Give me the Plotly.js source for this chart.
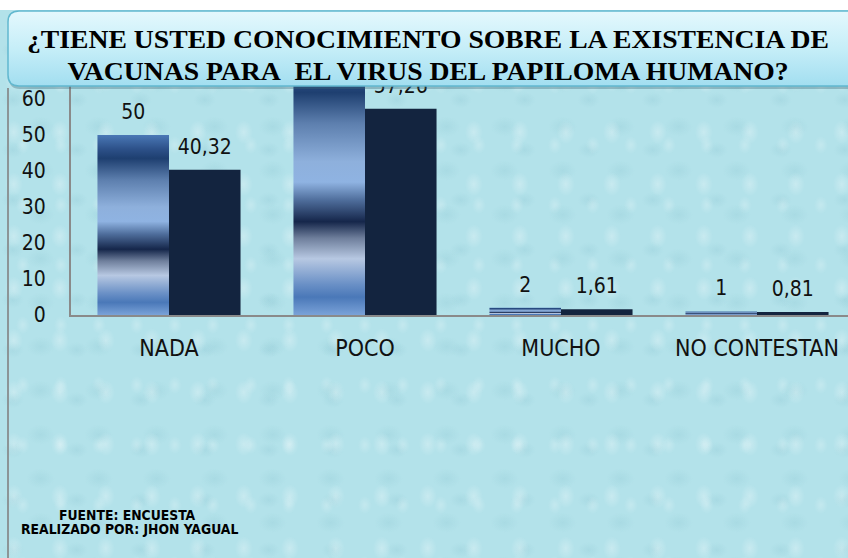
<!DOCTYPE html>
<html>
<head>
<meta charset="utf-8">
<script src="https://cdn.plot.ly/plotly-3.0.1.min.js"></script>
<style>
  html, body { margin: 0; padding: 0; background: #ffffff; overflow: hidden; }
  #wrap { position: relative; width: 848px; height: 558px; }
  #bg { position: absolute; left: 0; top: 10px; width: 848px; height: 548px;
    background-color: #b3e2ea;
    background-image:
      radial-gradient(ellipse 9px 12px at 30% 35%, rgba(255,255,255,0.28), rgba(255,255,255,0) 100%),
      radial-gradient(ellipse 14px 10px at 70% 65%, rgba(150,205,215,0.35), rgba(150,205,215,0) 100%),
      radial-gradient(ellipse 7px 9px at 60% 25%, rgba(255,255,255,0.22), rgba(255,255,255,0) 100%),
      radial-gradient(ellipse 11px 8px at 20% 80%, rgba(145,200,212,0.3), rgba(145,200,212,0) 100%);
    background-size: 46px 52px, 58px 44px, 38px 60px, 64px 50px; }
  #chart { position: absolute; left: 0; top: 0; width: 848px; height: 558px; }
</style>
</head>
<body>
<div id="wrap"><div id="bg"></div><div id="chart"></div></div>
<script>
// ---- data ----
const categories = ['NADA', 'POCO', 'MUCHO', 'NO CONTESTAN'];
const frecuencia = [50, 71, 2, 1];
const porcentaje = [40.32, 57.26, 1.61, 0.81];
const yTickVals = [0, 10, 20, 30, 40, 50, 60];
const titleLines = ['¿TIENE USTED CONOCIMIENTO SOBRE LA EXISTENCIA DE', 'VACUNAS PARA\u00a0 EL VIRUS DEL PAPILOMA HUMANO?'];
const footLines = ['FUENTE: ENCUESTA', 'REALIZADO POR: JHON YAGUAL'];

// ---- layout geometry (pixels) ----
const W = 848, H = 558;
const PL = 71, PR = 848, PT = 12, PB = 315;
const pxPerUnit = 3.6;
const bargap = 0.27;
const xRange = [-0.5, -0.5 + (PR - PL) / 196];
const yRange = [0, (PB - PT) / pxPerUnit];
const px = x => (x - PL) / (PR - PL);
const py = y => (PB - y) / (PB - PT);

const COND = '"DejaVu Sans Condensed", "Liberation Sans Narrow", "Arial Narrow", "Liberation Sans", sans-serif';
const SERIF = '"Liberation Serif", "Times New Roman", serif';

const fmt = v => String(v).replace('.', ',');
const halfOff = (1 - bargap) / 4;
const idx = categories.map((c, i) => i);

const traces = [
  { type: 'bar', x: categories, y: frecuencia, name: 'Frecuencia',
    marker: { color: '#5a84c0', line: { width: 0 } }, hoverinfo: 'skip' },
  { type: 'bar', x: categories, y: porcentaje, name: 'Porcentaje',
    marker: { color: '#13243f', line: { width: 0 } }, hoverinfo: 'skip' },
  { type: 'scatter', mode: 'markers+text', xaxis: 'x2', yaxis: 'y',
    x: idx.map(i => i - halfOff), y: frecuencia, text: frecuencia.map(fmt),
    textposition: 'top center', cliponaxis: true,
    marker: { size: 16, color: 'rgba(0,0,0,0)' },
    textfont: { family: COND, size: 21, color: '#111' }, hoverinfo: 'skip', showlegend: false },
  { type: 'scatter', mode: 'markers+text', xaxis: 'x2', yaxis: 'y',
    x: idx.map(i => i + halfOff), y: porcentaje, text: porcentaje.map(fmt),
    textposition: 'top center', cliponaxis: true,
    marker: { size: 16, color: 'rgba(0,0,0,0)' },
    textfont: { family: COND, size: 21, color: '#111' }, hoverinfo: 'skip', showlegend: false }
];

function roundRect(x0, y0, x1, y1, r) {
  const X = px, Y = py;
  return `M ${X(x0 + r)} ${Y(y0)} L ${X(x1 - r)} ${Y(y0)} Q ${X(x1)} ${Y(y0)} ${X(x1)} ${Y(y0 + r)} ` +
         `L ${X(x1)} ${Y(y1 - r)} Q ${X(x1)} ${Y(y1)} ${X(x1 - r)} ${Y(y1)} L ${X(x0 + r)} ${Y(y1)} ` +
         `Q ${X(x0)} ${Y(y1)} ${X(x0)} ${Y(y1 - r)} L ${X(x0)} ${Y(y0 + r)} Q ${X(x0)} ${Y(y0)} ${X(x0 + r)} ${Y(y0)} Z`;
}

const TITLE_CX = 428;
const layout = {
  width: W, height: H,
  margin: { l: PL, r: W - PR, t: PT, b: H - PB, pad: 0 },
  paper_bgcolor: 'rgba(0,0,0,0)', plot_bgcolor: 'rgba(0,0,0,0)',
  showlegend: false,
  barmode: 'group', bargap: bargap, bargroupgap: 0,
  separators: ',.',
  title: {
    text: titleLines.join('<br>'),
    font: { family: SERIF, size: 24.5, color: '#000', weight: 'bold' },
    xref: 'container', x: TITLE_CX / W, xanchor: 'center',
    yref: 'container', y: 1 - 48 / H, yanchor: 'middle'
  },
  xaxis: {
    type: 'category', range: xRange, fixedrange: true,
    showline: true, linecolor: '#8a8a8a', linewidth: 2,
    showgrid: false, zeroline: false, ticks: '',
    ticklabelstandoff: 11,
    tickfont: { family: COND, size: 23, color: '#111' }
  },
  xaxis2: { overlaying: 'x', anchor: 'y', range: xRange, visible: false, fixedrange: true },
  yaxis: {
    range: yRange, fixedrange: true,
    tickmode: 'array', tickvals: yTickVals,
    showline: true, linecolor: '#8a8a8a', linewidth: 2,
    showgrid: false, zeroline: false, ticks: '',
    ticklabelstandoff: 19,
    tickfont: { family: COND, size: 21, color: '#111' }
  },
  shapes: [
    { type: 'path', xref: 'paper', yref: 'paper', layer: 'above',
      path: roundRect(9, 14, 880, 89, 11),
      fillcolor: 'rgba(60,100,115,0.35)', line: { width: 0 } },
    { type: 'path', xref: 'paper', yref: 'paper', layer: 'above',
      path: roundRect(8, 11, 878, 86, 11),
      fillcolor: '#bfeaf5', line: { color: '#62b8cf', width: 1.5 } },
    { type: 'line', xref: 'paper', yref: 'paper', layer: 'above',
      x0: px(8), x1: px(8), y0: py(88), y1: py(H + 5),
      line: { color: '#8c9597', width: 2 } }
  ],
  annotations: [
    { xref: 'paper', yref: 'paper', x: px(127), y: py(515), xanchor: 'center', yanchor: 'middle',
      text: footLines[0], showarrow: false,
      font: { family: COND, size: 13.8, color: '#000', weight: 'bold' } },
    { xref: 'paper', yref: 'paper', x: px(129.5), y: py(529), xanchor: 'center', yanchor: 'middle',
      text: footLines[1], showarrow: false,
      font: { family: COND, size: 13.8, color: '#000', weight: 'bold' } }
  ]
};

Plotly.newPlot('chart', traces, layout, { staticPlot: true, displayModeBar: false }).then(gd => {
  const ns = 'http://www.w3.org/2000/svg';
  const svg = gd.querySelector('.main-svg');
  let defs = svg.querySelector('defs');
  if (!defs) { defs = document.createElementNS(ns, 'defs'); svg.insertBefore(defs, svg.firstChild); }
  function addGrad(id, stops) {
    const g = document.createElementNS(ns, 'linearGradient');
    g.setAttribute('id', id);
    g.setAttribute('x1', '0'); g.setAttribute('y1', '0');
    g.setAttribute('x2', '0'); g.setAttribute('y2', '1');
    stops.forEach(([o, c]) => {
      const s = document.createElementNS(ns, 'stop');
      s.setAttribute('offset', o); s.setAttribute('stop-color', c);
      g.appendChild(s);
    });
    defs.appendChild(g);
  }
  addGrad('gBar', [
    ['0', '#4a78b6'], ['0.08', '#2c5088'], ['0.13', '#1e3f70'], ['0.25', '#5d7fae'],
    ['0.40', '#8eb0dc'], ['0.48', '#8fb3e2'], ['0.55', '#4f6e9c'], ['0.635', '#15264a'],
    ['0.70', '#6f7f9c'], ['0.78', '#b7c8e2'], ['0.88', '#6a90c6'], ['0.93', '#4a78b8'], ['1', '#7aa2d8']
  ]);
  addGrad('gBox', [['0', '#e4f8fd'], ['0.5', '#c6eef8'], ['1', '#a2def0']]);
  const barTraces = gd.querySelectorAll('.barlayer .trace');
  if (barTraces[0]) barTraces[0].querySelectorAll('path').forEach(p => { p.style.fill = 'url(#gBar)'; });
  const box = gd.querySelector('.layer-above .shapelayer path[data-index="1"]');
  if (box) box.style.fill = 'url(#gBox)';
  // the original title is set horizontally stretched
  const t = gd.querySelector('.g-gtitle text');
  if (t) {
    const prev = t.getAttribute('transform') || '';
    t.setAttribute('transform', `translate(${TITLE_CX} 0) scale(1.13 1) translate(${-TITLE_CX} 0) ${prev}`);
  }
});
</script>
</body>
</html>
